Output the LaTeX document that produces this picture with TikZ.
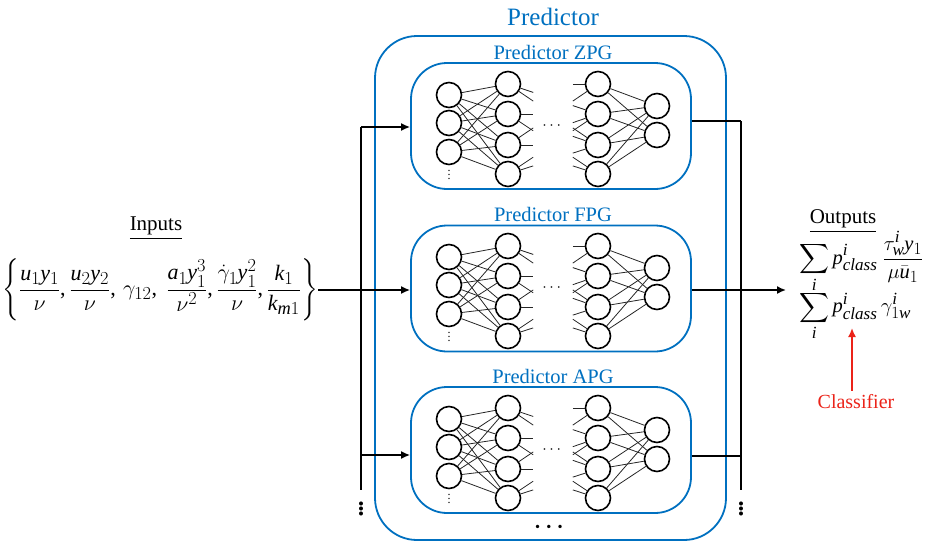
\RequirePackage{fix-cm}
\documentclass[tikz,border=0pt]{standalone}
\usepackage{amsmath}
\usepackage{fontspec}
\setmainfont{Liberation Serif}
\usepackage[italic]{mathastext}
\usetikzlibrary{arrows.meta,calc}
\definecolor{pblue}{RGB}{0,112,192}
\definecolor{cred}{RGB}{235,35,25}
\tikzset{
  neuron/.style={circle, draw, line width=1.6pt, minimum size=25pt, inner sep=0pt},
  conn/.style={line width=0.8pt, draw=black!85},
  outerbox/.style={draw=pblue, line width=1.8pt, rounded corners=42pt, inner sep=0pt},
  innerbox/.style={draw=pblue, line width=1.8pt, rounded corners=36pt, inner sep=0pt, minimum width=280pt, minimum height=126pt},
  wire/.style={line width=1.6pt},
  arr/.style={line width=1.6pt, -{Latex[length=9pt,width=8pt]}},
  redarr/.style={line width=1.6pt, draw=cred, -{Latex[length=9pt,width=8pt]}},
  ttl/.style={text=pblue, inner sep=0pt},
  bigdots/.style={font=\fontsize{34}{34}\selectfont, inner sep=0pt},
}
\newcommand\mynet[2]{%
  \foreach \i/\y in {1/95,2/123,3/152} \node[neuron] (#1a\i) at (449,\y+#2) {};
  \foreach \i/\y in {1/84,2/114,3/145,4/174} \node[neuron] (#1b\i) at (508,\y+#2) {};
  \foreach \i/\y in {1/84,2/114,3/145,4/174} \node[neuron] (#1c\i) at (598,\y+#2) {};
  \foreach \i/\y in {1/106,2/135} \node[neuron] (#1d\i) at (657,\y+#2) {};
  \node[inner sep=0pt, font=\fontsize{12}{12}\selectfont] (#1vd) at (449,172+#2) {$\vdots$};
  \node[inner sep=0pt, font=\fontsize{16}{16}\selectfont] (#1hd) at (553,126+#2) {$\cdots$};
  \foreach \i in {1,2,3} \foreach \j in {1,...,4} \draw[conn] (#1a\i) -- (#1b\j);
  \foreach \i in {1,...,4} \foreach \j in {1,2} \draw[conn] (#1c\i) -- (#1d\j);
  \foreach \i/\j in {1/2,1/3,2/2,2/4,3/1,3/3,4/2,4/3}
    \draw[conn] (#1b\i) -- ($(#1b\i)!0.28!(#1c\j)$);
  \foreach \i/\j in {1/1,3/1,1/2,3/2,4/2,1/3,2/3,4/3,2/4,3/4}
    \draw[conn] ($(#1b\i)!0.72!(#1c\j)$) -- (#1c\j);
}
\begin{document}
\begin{tikzpicture}[x=1pt,y=-1pt]
\useasboundingbox (0,0) rectangle (926,544);
% outer predictor box
\node[outerbox, minimum width=351pt, minimum height=504pt] (outer) at (550.5,288) {};
\node[ttl, font=\fontsize{25}{30}\selectfont] (ttl) at (553,17) {Predictor};
% inner boxes
\node[innerbox] (boxZ) at (551,126) {};
\node[innerbox] (boxF) at (551,288.5) {};
\node[innerbox] (boxA) at (551,450) {};
\node[ttl, font=\fontsize{20.5}{24}\selectfont] (tZ) at (553,52) {Predictor ZPG};
\node[ttl, font=\fontsize{20.5}{24}\selectfont] (tF) at (553,214) {Predictor FPG};
\node[ttl, font=\fontsize{20.5}{24}\selectfont] (tA) at (553,376) {Predictor APG};
\mynet{Z}{0}
\mynet{F}{162}
\mynet{A}{324}
% bottom dots
\node[font=\fontsize{22}{22}\selectfont\bfseries, inner sep=0pt] (bdots) at (551,527) {$\boldsymbol{\cdots}$};
% inputs
\node[font=\fontsize{21}{24}\selectfont, inner sep=0pt] (inlab) at (156,228) {\underline{Inputs}};
\node[font=\fontsize{22}{24}\selectfont, inner sep=0pt, anchor=east] (inp) at (318,290)
  {$\left\{\dfrac{u_1y_1}{\nu},\dfrac{u_2y_2}{\nu},\,\gamma_{12},\ \dfrac{a_1y_1^3}{\nu^2},\dfrac{\dot\gamma_1y_1^2}{\nu},\dfrac{k_1}{k_{m1}}\right\}$};
% left bus
\coordinate (lTop) at (361,127);
\coordinate (lMid) at (361,290);
\coordinate (lLow) at (361,455);
\coordinate (lBot) at (361,490);
\draw[wire] (lTop) -- (lBot);
\draw[wire] (inp.east |- lMid) -- (lMid);
\draw[arr] (lTop) -- (lTop -| boxZ.west);
\draw[arr] (lMid) -- (lMid -| boxF.west);
\draw[arr] (lLow) -- (lLow -| boxA.west);
\node[bigdots] (ldots) at (361,506) {$\boldsymbol{\vdots}$};
% right bus
\coordinate (rTop) at (741,121);
\coordinate (rMid) at (741,290);
\coordinate (rLow) at (741,456);
\coordinate (rBot) at (741,490);
\coordinate (outTip) at (786,290);
\draw[wire] (rTop) -- (rBot);
\draw[wire] (rTop -| boxZ.east) -- (rTop);
\draw[wire] (rLow -| boxA.east) -- (rLow);
\draw[arr] (rMid -| boxF.east) -- (outTip);
\node[bigdots] (rdots) at (741,506) {$\boldsymbol{\vdots}$};
% outputs
\node[font=\fontsize{21}{24}\selectfont, inner sep=0pt] (outlab) at (843,221) {\underline{Outputs}};
\node[font=\fontsize{20.5}{24}\selectfont, inner sep=0pt, anchor=west] (o1) at (799,262)
  {$\displaystyle\sum_i p^i_{class}\ \frac{\tau^i_w y_1}{\mu\bar u_1}$};
\node[font=\fontsize{20.5}{24}\selectfont, inner sep=0pt, anchor=west] (o2) at (799,316)
  {$\displaystyle\sum_i p^i_{class}\,\gamma^i_{1w}$};
% classifier
\node[text=cred, font=\fontsize{20}{24}\selectfont, inner sep=0pt] (cls) at (856,402) {Classifier};
\coordinate (clsTip) at (852,328);
\draw[redarr] (cls.north -| clsTip) ++(0,-4) -- (clsTip);
\end{tikzpicture}
\end{document}
